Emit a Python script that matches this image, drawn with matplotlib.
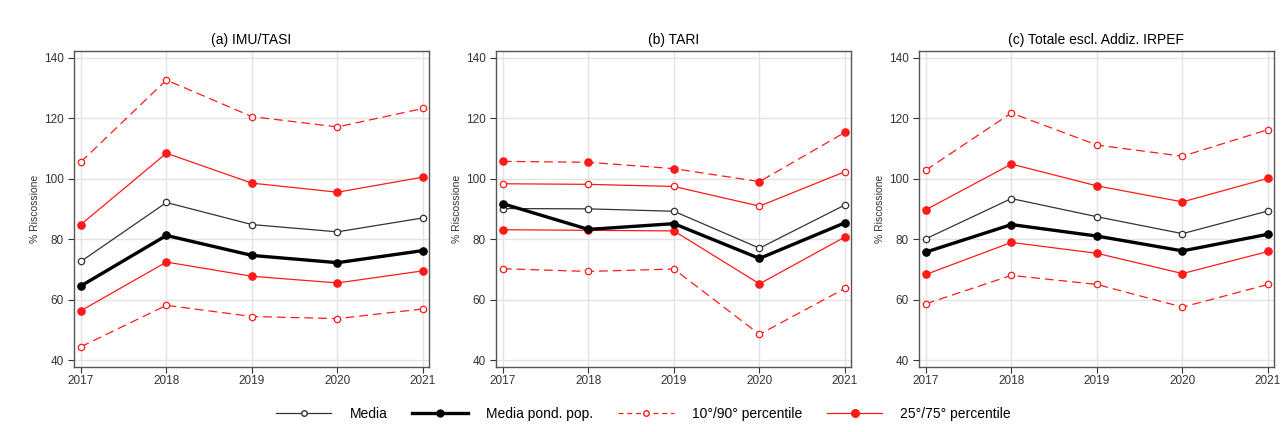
import matplotlib.pyplot as plt
from matplotlib.lines import Line2D

plt.rcParams['font.family'] = ['Liberation Sans', 'DejaVu Sans']

years = [2017, 2018, 2019, 2020, 2021]
titles = ['(a) IMU/TASI', '(b) TARI', '(c) Totale escl. Addiz. IRPEF']

# (a) IMU/TASI
imu_media = [72.6, 92.1, 84.8, 82.4, 87.0]
imu_pond = [64.5, 81.2, 74.6, 72.2, 76.2]
imu_p10 = [44.4, 58.1, 54.4, 53.7, 56.9]
imu_p90 = [105.5, 132.6, 120.5, 117.1, 123.2]
imu_p25 = [56.3, 72.4, 67.7, 65.5, 69.5]
imu_p75 = [84.8, 108.4, 98.5, 95.5, 100.5]

# (b) TARI
tari_media = [90.1, 90.0, 89.2, 77.0, 91.3]
tari_pond = [91.7, 83.2, 85.1, 73.6, 85.4]
tari_p10 = [70.2, 69.3, 70.1, 48.5, 63.7]
tari_p90 = [105.7, 105.4, 103.3, 99.0, 115.3]
tari_p25 = [83.1, 82.9, 82.7, 65.2, 80.7]
tari_p75 = [98.3, 98.1, 97.4, 90.9, 102.3]

# (c) Totale
tot_media = [80.1, 93.4, 87.4, 81.8, 89.3]
tot_pond = [75.7, 84.8, 81.0, 76.1, 81.6]
tot_p10 = [58.6, 68.0, 65.0, 57.5, 65.0]
tot_p90 = [102.8, 121.7, 111.1, 107.4, 116.2]
tot_p25 = [68.3, 78.9, 75.3, 68.6, 75.9]
tot_p75 = [89.7, 104.8, 97.6, 92.3, 100.1]

panels = [
    (imu_media, imu_pond, imu_p10, imu_p90, imu_p25, imu_p75),
    (tari_media, tari_pond, tari_p10, tari_p90, tari_p25, tari_p75),
    (tot_media, tot_pond, tot_p10, tot_p90, tot_p25, tot_p75),
]

RED = '#ff1a1a'
DASH = (7, 4)

fig = plt.figure(figsize=(12.87, 4.32), dpi=100)
lefts = [74, 496, 919]

def hollow(ax, y, color, ls, dashes=None, ms=4.6):
    kw = dict(color=color, lw=0.9, marker='o', ms=ms, mfc='white',
              mec=color, mew=0.9, zorder=3)
    if dashes:
        kw['dashes'] = dashes
    ax.plot(years, y, ls, **kw)

def filled(ax, y, color, ls, lw=0.9, dashes=None, ms=5.2):
    kw = dict(color=color, lw=lw, marker='o', ms=ms, mfc=color,
              mec=color, zorder=3)
    if dashes:
        kw['dashes'] = dashes
    ax.plot(years, y, ls, **kw)

for i, (media, pond, p10, p90, p25, p75) in enumerate(panels):
    ax = fig.add_axes([lefts[i] / 1287, 65 / 432, 355 / 1287, 316 / 432])
    if i == 1:
        # TARI panel: marker fill is swapped on the upper lines
        filled(ax, p90, RED, '--', dashes=DASH)
        hollow(ax, p75, RED, '-')
        filled(ax, p25, RED, '-')
        hollow(ax, p10, RED, '--', dashes=DASH)
    else:
        hollow(ax, p90, RED, '--', dashes=DASH)
        filled(ax, p75, RED, '-')
        filled(ax, p25, RED, '-')
        hollow(ax, p10, RED, '--', dashes=DASH)
    hollow(ax, media, '#333333', '-')
    filled(ax, pond, 'black', '-', lw=2.4, ms=5.2)

    ax.set_xlim(2016.92, 2021.07)
    ax.set_ylim(37.7, 142.2)
    ax.set_xticks(years)
    ax.set_yticks([40, 60, 80, 100, 120, 140])
    ax.grid(True, color='#e3e3e3', lw=1.0)
    ax.set_axisbelow(True)
    for s in ax.spines.values():
        s.set_color('#555555')
        s.set_linewidth(1.0)
    ax.tick_params(labelsize=8.5, colors='#333333', length=4, width=0.8,
                   direction='out')
    ax.tick_params(axis='x', pad=2)
    ax.set_ylabel('% Riscossione', fontsize=7.5, color='#333333', labelpad=3)
    ax.set_title(titles[i], fontsize=10, pad=5)

handles = [
    Line2D([], [], color='#333333', lw=0.9, marker='o', ms=4, mfc='white',
           mec='#333333'),
    Line2D([], [], color='black', lw=2.4, marker='o', ms=5, mfc='black'),
    Line2D([], [], color=RED, lw=0.9, ls='--', dashes=(4, 3), marker='o', ms=4,
           mfc='white', mec=RED),
    Line2D([], [], color=RED, lw=0.9, marker='o', ms=5.5, mfc=RED, mec=RED),
]
labels = ['Media', 'Media pond. pop.', '10°/90° percentile', '25°/75° percentile']
fig.legend(handles, labels, loc='center', bbox_to_anchor=(0.5, 18 / 432),
           ncol=4, frameon=False, fontsize=10, handlelength=4,
           columnspacing=1.8, handletextpad=1.3)

fig.savefig('out.png', dpi=100)
